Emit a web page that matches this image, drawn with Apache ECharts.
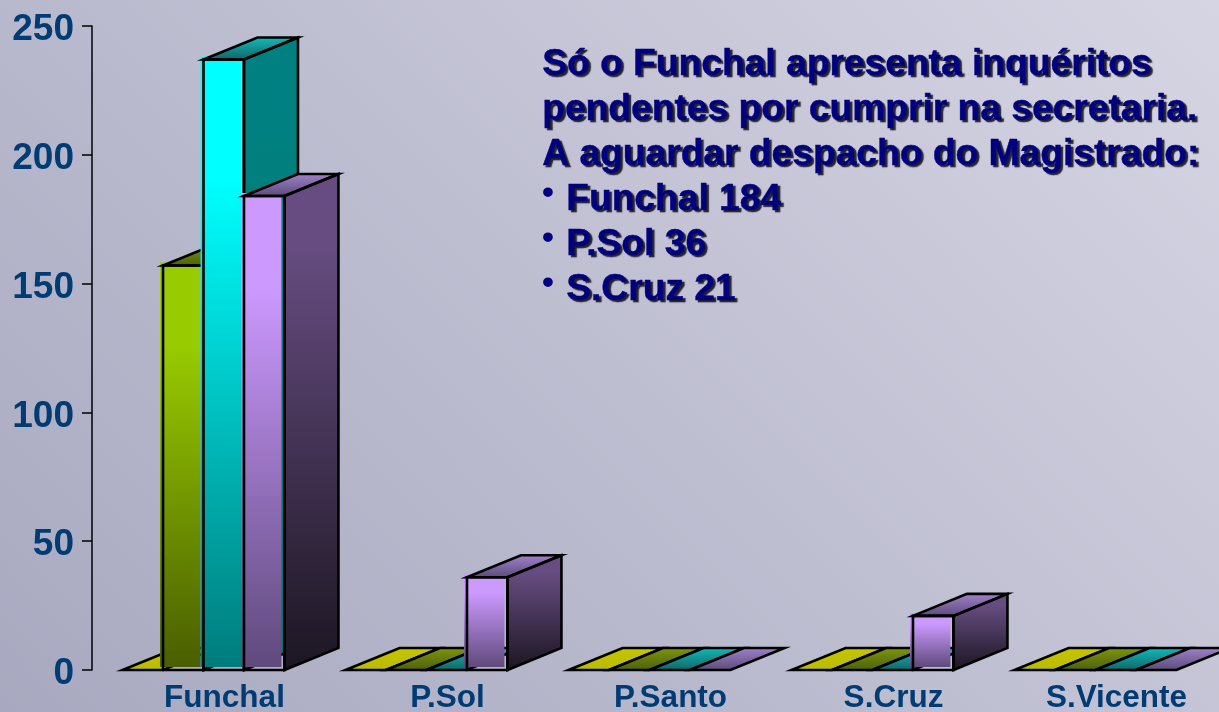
<!DOCTYPE html>
<html><head><meta charset="utf-8">
<style>html,body{margin:0;padding:0;background:#b8b8cc}#c{width:1219px;height:712px}</style>
<script src="https://cdn.jsdelivr.net/npm/echarts@6/dist/echarts.min.js"></script>
</head><body><div id="c"></div>
<script>
const categories = ['Funchal','P.Sol','P.Santo','S.Cruz','S.Vicente'];
const serie1 = [0,0,0,0,0];
const serie2 = [157,0,0,0,0];
const serie3 = [237,0,0,0,0];
const serie4 = [184,36,0,21,0];
const yTicks = [0,50,100,150,200,250];
const noteLines = ['Só o Funchal apresenta inquéritos','pendentes por cumprir na secretaria.','A aguardar despacho do Magistrado:'];
const noteBullets = ['Funchal 184','P.Sol 36','S.Cruz 21'];

function grad(x0,y0,x1,y1,a,b){return {type:'linear',x:x0,y:y0,x2:x1,y2:y1,colorStops:[{offset:0,color:a},{offset:1,color:b}]};}
function grad3(a,b,hold){return {type:'linear',x:0,y:0,x2:0,y2:1,colorStops:[{offset:0,color:a},{offset:hold,color:a},{offset:1,color:b}]};}
const palette = [
 {front:['#c8c800','#808000'],side:['#808000','#404000'],top:['#c4c400','#bcbc00']},
 {front:['#99cc00','#4a5e00'],side:['#4d6600','#263300'],top:['#7c9410','#4f6208']},
 {front:['#00ffff','#007c7c'],side:['#008080','#007474'],top:['#12b8b8','#106868']},
 {front:['#cc99ff','#5f4a7c'],side:['#664c80','#1c1622'],top:['#a080c8','#5c4c7c']}
];
const DX=54, DY=-22, SHIFT=3;
function bar3d(si){
 return function(params,api){
  const cat=api.value(0), val=api.value(1);
  const base=api.coord([cat,0]), topP=api.coord([cat,val]);
  const band=api.size([1,0])[0];
  const w=band*0.1815;
  const x0=base[0]-2*w+si*w, x1=x0+w, yb=base[1], yt=topP[1];
  const p=palette[si];
  const st={stroke:'#000',lineWidth:2.6,fill:null,lineJoin:'miter'};
  const children=[];
  const tall=yb-yt>1;
  const topPts=[[x0,yt],[x1,yt],[x1+DX,yt+DY],[x0+DX,yt+DY]];
  const sidePts=[[x1,yt],[x1+DX,yt+DY],[x1+DX,yb+DY],[x1,yb]];
  const frontPts=[[x0,yt],[x1,yt],[x1,yb],[x0,yb]];
  const shift=a=>a.map(q=>[q[0]-SHIFT,q[1]-SHIFT]);
  if(tall){
    children.push({type:'polygon',shape:{points:sidePts},style:{fill:grad3(p.side[0],p.side[1],0.15)}});
    children.push({type:'polygon',shape:{points:shift(frontPts)},style:{fill:grad3(p.front[0],p.front[1],0.2)}});
  }
  children.push({type:'polygon',shape:{points:topPts},style:{fill:grad(0,1,0,0,p.top[1],p.top[0])}});
  if(tall){
    children.push({type:'polygon',shape:{points:sidePts},style:st});
    children.push({type:'polygon',shape:{points:frontPts},style:st});
  }
  children.push({type:'polygon',shape:{points:topPts},style:st});
  return {type:'group',children};
 };
}
function mk(arr,si){
 return {type:'custom',name:'s'+si,renderItem:bar3d(si),clip:false,encode:{x:0,y:1},
   data:arr.map((v,i)=>[i,v]),z:2+si};
}
const textStyleNote={fontFamily:'Liberation Sans',fontWeight:'bold',fontSize:37.2,fill:'#000080',
  stroke:'#000080',lineWidth:0.4,
  textShadowColor:'rgba(15,15,30,0.9)',textShadowBlur:1,textShadowOffsetX:2.5,textShadowOffsetY:2.5};
const graphics=[];
noteLines.forEach((t,i)=>graphics.push({type:'text',left:542,top:46+i*45,style:Object.assign({},textStyleNote,{text:t})}));
noteBullets.forEach((t,i)=>{
 graphics.push({type:'text',left:566,top:181+i*45,style:Object.assign({},textStyleNote,{text:t})});
 graphics.push({type:'text',left:542,top:177+i*45,style:{text:'•',fontFamily:'Liberation Sans',fontWeight:'bold',fontSize:34,fill:'#000080'}});
});
const chart=echarts.init(document.getElementById('c'),null,{renderer:'canvas'});
chart.setOption({
 animation:false,
 backgroundColor:{type:'linear',global:true,x:0,y:712,x2:988,y2:-270,colorStops:[{offset:0,color:'#a8a8c0'},{offset:1,color:'#d6d6e4'}]},
 grid:{left:92,top:26,width:1115,bottom:42,containLabel:false,outerBoundsMode:'none'},
 xAxis:{type:'category',data:categories,axisLine:{show:false},axisTick:{show:false},
  axisLabel:{fontFamily:'Liberation Sans',fontWeight:'bold',fontSize:31.5,color:'#003c74',margin:12,padding:[0,0,0,42],interval:0,hideOverlap:false}},
 yAxis:{type:'value',min:0,max:250,interval:50,splitLine:{show:false},
  axisLine:{show:true,lineStyle:{color:'#000',width:1.5}},
  axisTick:{show:true,length:10,lineStyle:{color:'#000',width:1.5}},
  axisLabel:{fontFamily:'Liberation Sans',fontWeight:'bold',fontSize:37,color:'#003c74',margin:18,verticalAlign:'top',lineHeight:8,formatter:v=>yTicks.includes(v)?String(v):''}},
 series:[mk(serie1,0),mk(serie2,1),mk(serie3,2),mk(serie4,3)],
 graphic:graphics
});
</script></body></html>
